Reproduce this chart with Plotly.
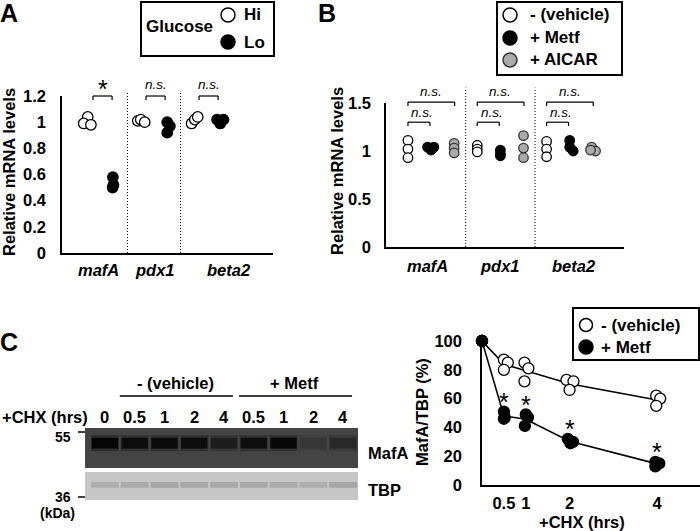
import plotly.graph_objects as go

W, H = 700, 531
FONT = "Liberation Sans, Arial, sans-serif"

# ---------------- data ----------------
genes = ["mafA", "pdx1", "beta2"]

# Panel A: relative mRNA levels, Glucose Hi / Lo (3 replicates per gene)
a_hi = [[1.04, 0.99, 0.98], [1.01, 1.02, 1.00], [0.99, 1.02, 1.04]]
a_lo = [[0.58, 0.52, 0.50], [1.00, 0.97, 0.92], [1.02, 1.02, 0.99]]
a_sig = ["*", "n.s.", "n.s."]
a_yticks = [0, 0.2, 0.4, 0.6, 0.8, 1, 1.2]

# Panel B: relative mRNA levels, vehicle / Metf / AICAR
b_veh = [[1.11, 1.02, 0.93], [1.06, 1.02, 0.99], [1.10, 1.02, 0.94]]
b_metf = [[1.04, 1.04, 1.01], [1.01, 0.97, 0.95], [1.11, 1.04, 1.00]]
b_aicar = [[1.08, 1.03, 0.98], [1.16, 1.03, 0.93], [1.04, 1.00, 1.01]]
b_sig = ["n.s.", "n.s."]
b_yticks = [0, 0.5, 1, 1.5]

# Panel C: MafA/TBP (%) after CHX
c_time = [0, 0.5, 1, 2, 4]
c_veh = [[100, 100, 100], [87, 85, 80], [85, 81, 72], [73, 72, 66], [62, 60, 55]]
c_metf = [[100, 100, 100], [51, 47, 46], [49, 47, 41], [32, 30, 29], [16, 15, 13]]
c_sig = ["", "*", "*", "*", "*"]
c_yticks = [0, 20, 40, 60, 80, 100]
c_xticks = [0.5, 1, 2, 4]

# Western blot (relative band intensities per lane)
blot_lanes = ["0", "0.5", "1", "2", "4", "0.5", "1", "2", "4"]
blot_groups = ["- (vehicle)", "+ Metf"]
mafa_band = [1.0, 0.88, 0.90, 0.88, 0.62, 0.85, 0.95, 0.22, 0.45]
tbp_band = [0.45, 0.50, 0.60, 0.55, 0.55, 0.55, 0.50, 0.45, 0.60]

# ---------------- helpers ----------------
def px(x):
    return x / W

def py(y):
    return 1 - y / H

def bold(size, italic=False):
    d = dict(family=FONT, size=size, color="black", weight="bold")
    if italic:
        d["style"] = "italic"
    return d

def plain(size, italic=False):
    d = dict(family=FONT, size=size, color="black")
    if italic:
        d["style"] = "italic"
    return d

annotations = []
shapes = []

def ann(text, x, y, font, xanchor="center", yanchor="middle", xref="paper", yref="paper", angle=0, yshift=0):
    annotations.append(dict(text=text, x=x, y=y, xref=xref, yref=yref, showarrow=False,
                            font=font, xanchor=xanchor, yanchor=yanchor, textangle=angle,
                            yshift=yshift))

def ptext(text, x, y, font, **kw):
    ann(text, px(x), py(y), font, **kw)

def rect(x0, y0, x1, y1, lw=2):
    shapes.append(dict(type="rect", xref="paper", yref="paper", x0=px(x0), x1=px(x1),
                       y0=py(y1), y1=py(y0), line=dict(color="black", width=lw),
                       fillcolor="white", layer="below"))

def circ(x, y, r, fill, line="black", lw=1.5):
    shapes.append(dict(type="circle", xref="paper", yref="paper", x0=px(x - r), x1=px(x + r),
                       y0=py(y + r), y1=py(y - r), line=dict(color=line, width=lw),
                       fillcolor=fill, layer="above"))

def pline(x0, y0, x1, y1, lw=1.5):
    shapes.append(dict(type="line", xref="paper", yref="paper", x0=px(x0), x1=px(x1),
                       y0=py(y0), y1=py(y1), line=dict(color="black", width=lw)))

# axis geometry (pixels) and value->paper helper for items above the plot areas
A_DOM = (62, 273, 96, 253)     # x0, x1, ytop, ybottom
B_DOM = (386, 624, 103, 247)
BL_DOM = (85, 358, 428, 500)
C_DOM = (482, 700, 341, 485)

def yval_paper(dom, rng, v):
    top, bot = py(dom[2]), py(dom[3])
    return bot + (v - rng[0]) / (rng[1] - rng[0]) * (top - bot)

def dline(xref, dom, rng, x0, v0, x1, v1, lw=1.2, dash="solid"):
    shapes.append(dict(type="line", xref=xref, yref="paper", x0=x0, x1=x1,
                       y0=yval_paper(dom, rng, v0), y1=yval_paper(dom, rng, v1),
                       line=dict(color="black", width=lw, dash=dash)))

def bracket(xref, dom, rng, x0, x1, v, drop):
    dline(xref, dom, rng, x0, v - drop, x0, v)
    dline(xref, dom, rng, x0, v, x1, v)
    dline(xref, dom, rng, x1, v, x1, v - drop)

fig = go.Figure()

def add_markers(xs, ys, xa, ya, fill, line="black", size=10):
    fig.add_trace(go.Scatter(x=xs, y=ys, xaxis=xa, yaxis=ya, mode="markers",
                             marker=dict(size=size, color=fill, line=dict(color=line, width=1.3)),
                             cliponaxis=False, showlegend=False, hoverinfo="skip"))

DOT = "1px,2px"

# ---------------- Panel A ----------------
A_RANGE = (0, 1.2)
a_jit_hi = [[0.0, -0.15, 0.12], [-0.11, 0.0, 0.15], [-0.08, 0.04, 0.15]]
a_jit_lo = [[-0.05, -0.03, -0.06], [0.0, 0.1, 0.0], [-0.12, 0.12, 0.0]]
xs_h, ys_h, xs_l, ys_l = [], [], [], []
for g in range(len(genes)):
    c = 1 + 2 * g
    for v, j in zip(a_hi[g], a_jit_hi[g]):
        xs_h.append(c - 0.5 + j); ys_h.append(v)
    for v, j in zip(a_lo[g], a_jit_lo[g]):
        xs_l.append(c + 0.5 + j); ys_l.append(v)
add_markers(xs_h, ys_h, "x", "y", "white", size=10.5)
add_markers(xs_l, ys_l, "x", "y", "black", size=10.5)
for g in range(1, len(genes)):
    dline("x", A_DOM, A_RANGE, 2 * g, 0, 2 * g, 1.223, lw=1, dash=DOT)
a_label_x = [0.9, 3.05, 5.8]
for g in range(len(genes)):
    c = 1 + 2 * g
    bracket("x", A_DOM, A_RANGE, c - 0.3, c + 0.42, 1.2, 0.03)
    ysig = yval_paper(A_DOM, A_RANGE, 1.285)
    if a_sig[g] == "*":
        ann("*", c + 0.07, ysig, plain(25), xref="x", yref="paper", yshift=-4)
    else:
        ann(a_sig[g], c + 0.07, ysig, plain(13.5, italic=True), xref="x", yref="paper")
    ann(genes[g], a_label_x[g], py(270), bold(16.5, italic=True), xref="x", yref="paper")

# ---------------- Panel B ----------------
B_RANGE = (0, 1.5)
b_jit = {
    "veh": [[0, 0, 0], [0, 0, 0], [0, 0, 0]],
    "metf": [[-0.15, 0.12, 0.0], [0, 0, 0], [0, 0, 0.15]],
    "aicar": [[0, 0, 0], [0, 0, 0], [-0.05, 0.12, -0.1]],
}
series_b = [("veh", b_veh, "white", "black", 0), ("metf", b_metf, "black", "black", 1),
            ("aicar", b_aicar, "#aaaaaa", "#333333", 2)]
for key, vals, fill, lc, off in series_b:
    xs, ys = [], []
    for g in range(len(genes)):
        for v, j in zip(vals[g], b_jit[key][g]):
            xs.append(3 * g + off + j); ys.append(v)
    add_markers(xs, ys, "x2", "y2", fill, line=lc, size=9.5)
for g in range(1, len(genes)):
    dline("x2", B_DOM, B_RANGE, 3 * g - 0.5, 0, 3 * g - 0.5, 1.66, lw=1, dash=DOT)
b_label_x = [0.85, 4.0, 7.15]
for g in range(len(genes)):
    s = 3 * g
    bracket("x2", B_DOM, B_RANGE, s, s + 2.02, 1.51, 0.04)
    bracket("x2", B_DOM, B_RANGE, s, s + 0.95, 1.30, 0.04)
    ann(b_sig[0], s + 1.0, yval_paper(B_DOM, B_RANGE, 1.615), plain(13.5, italic=True),
        xref="x2", yref="paper")
    ann(b_sig[1], s + 0.62, yval_paper(B_DOM, B_RANGE, 1.40), plain(13.5, italic=True),
        xref="x2", yref="paper")
    ann(genes[g], b_label_x[g], py(266), bold(16.5, italic=True), xref="x2", yref="paper")

# ---------------- Panel C (chart) ----------------
def mean(v):
    return sum(v) / len(v)

c_jit_veh = [[0, 0, 0], [0, 0.09, 0], [-0.03, 0.06, -0.03], [-0.07, 0.09, 0], [-0.02, 0.07, -0.02]]
c_jit_metf = [[0, 0, 0], [0, 0.02, 0], [0, 0.05, -0.02], [-0.04, 0.08, 0.02], [-0.04, 0.05, -0.04]]
for vals in (c_veh, c_metf):
    fig.add_trace(go.Scatter(x=c_time, y=[mean(v) for v in vals], xaxis="x4", yaxis="y4",
                             mode="lines", line=dict(color="black", width=1.6), cliponaxis=False,
                             showlegend=False, hoverinfo="skip"))
for vals, jit, fill in [(c_veh, c_jit_veh, "white"), (c_metf, c_jit_metf, "black")]:
    xs, ys = [], []
    for t, reps, jj in zip(c_time, vals, jit):
        for v, j in zip(reps, jj):
            xs.append(t + j); ys.append(v)
    add_markers(xs, ys, "x4", "y4", fill, size=11)
for t, s, reps in zip(c_time, c_sig, c_metf):
    if s:
        ann(s, t, max(reps) + 8, plain(25), xref="x4", yref="y4", yshift=-2)

# ---------------- Blot ----------------
lane_idx = list(range(len(blot_lanes)))
BL_X0 = -0.67
shapes.append(dict(type="rect", xref="x3", yref="y3", x0=BL_X0, x1=8.5, y0=0.444, y1=1.0,
                   fillcolor="#444444", line=dict(width=0), layer="below"))
shapes.append(dict(type="rect", xref="x3", yref="y3", x0=BL_X0, x1=8.5, y0=0.0, y1=0.389,
                   fillcolor="#c6c6c6", line=dict(width=0), layer="below"))
fig.add_trace(go.Bar(x=lane_idx, y=[0.22] * len(lane_idx), base=0.68, width=0.94,
                     xaxis="x3", yaxis="y3", opacity=0.55,
                     marker=dict(color=mafa_band, cmin=0, cmax=1, showscale=False,
                                 colorscale=[[0, "#444444"], [1, "#1e1e1e"]], line=dict(width=0)),
                     showlegend=False, hoverinfo="skip"))
fig.add_trace(go.Bar(x=lane_idx, y=[0.15] * len(lane_idx), base=0.715, width=0.88,
                     xaxis="x3", yaxis="y3",
                     marker=dict(color=mafa_band, cmin=0, cmax=1, showscale=False,
                                 colorscale=[[0, "#444444"], [1, "#050505"]], line=dict(width=0)),
                     showlegend=False, hoverinfo="skip"))
fig.add_trace(go.Bar(x=lane_idx, y=[0.08] * len(lane_idx), base=0.17, width=0.94,
                     xaxis="x3", yaxis="y3",
                     marker=dict(color=tbp_band, cmin=0, cmax=1, showscale=False,
                                 colorscale=[[0, "#c6c6c6"], [1, "#909090"]], line=dict(width=0)),
                     showlegend=False, hoverinfo="skip"))
for i, lab in enumerate(blot_lanes):
    ann(lab, i, py(417), bold(16.5), xref="x3", yref="paper")
for name, lanes in [(blot_groups[0], [1, 2, 3, 4]), (blot_groups[1], [5, 6, 7, 8])]:
    ann(name, (lanes[0] + lanes[-1]) / 2 - 0.12, py(383), bold(16.5), xref="x3", yref="paper")
    shapes.append(dict(type="line", xref="x3", yref="paper", x0=lanes[0] - 0.5, x1=lanes[-1] + 0.3,
                       y0=py(396), y1=py(396), line=dict(color="black", width=1.5)))
ptext("+CHX (hrs)", 0, 417, bold(16.5), xanchor="left")
ptext("55", 73, 437, bold(14), xanchor="right")
pline(78, 432, 85, 432)
ptext("36", 73, 497, bold(14), xanchor="right")
pline(78, 497, 85, 497)
ptext("(kDa)", 57, 513, bold(14))
ptext("MafA", 366, 453, bold(16.5), xanchor="left")
ptext("TBP", 366, 490, bold(16.5), xanchor="left")

# ---------------- panel letters, titles ----------------
ptext("A", 9, 13, bold(25))
ptext("B", 327, 13, bold(25))
ptext("C", 9, 342, bold(25))
ptext("Relative mRNA levels", 9, 172, bold(16.5), angle=-90)
ptext("Relative mRNA levels", 337, 171, bold(16.5), angle=-90)
ptext("MafA/TBP (%)", 422, 412, bold(16.5), angle=-90)
ptext("+CHX (hrs)", 582, 522, bold(16.5))

# ---------------- legends (keys) ----------------
rect(141, 2, 274, 56)
ptext("Glucose", 180, 27, bold(17))
circ(228, 15, 7, "white")
circ(228, 42, 7, "black")
ptext("Hi", 242, 15, bold(17), xanchor="left")
ptext("Lo", 242, 42, bold(17), xanchor="left")

rect(497, 2, 622, 75)
circ(510, 15, 7, "white")
circ(510, 38, 7, "black")
circ(510, 60, 7, "#aaaaaa", line="#333333")
ptext("- (vehicle)", 528, 15, bold(17), xanchor="left")
ptext("+ Metf", 528, 38, bold(17), xanchor="left")
ptext("+ AICAR", 528, 60, bold(17), xanchor="left")

rect(573, 308, 699, 360)
circ(586, 325, 6.5, "white")
circ(586, 347, 7, "black")
ptext("- (vehicle)", 599, 325, bold(17), xanchor="left")
ptext("+ Metf", 599, 347, bold(17), xanchor="left")

# ---------------- axes ----------------
common = dict(showgrid=False, zeroline=False, ticks="", ticklen=0, linecolor="black", linewidth=1.5,
              automargin=False)

def fmt(v):
    return f"{v:g}"

fig.update_layout(
    width=W, height=H, autosize=False,
    margin=dict(l=0, r=0, t=0, b=0, pad=0, autoexpand=False),
    paper_bgcolor="white", plot_bgcolor="white", barmode="overlay", hovermode=False,
    showlegend=False,
    xaxis=dict(domain=[px(A_DOM[0]), px(A_DOM[1])], range=[-0.47, 7.49], anchor="y", showline=True,
               showticklabels=False, **common),
    yaxis=dict(domain=[py(A_DOM[3]), py(A_DOM[2])], range=list(A_RANGE), anchor="x", showline=True,
               tickvals=a_yticks, ticktext=[fmt(v) for v in a_yticks], tickfont=bold(16.5),
               ticklabelstandoff=11, **common),
    xaxis2=dict(domain=[px(B_DOM[0]), px(B_DOM[1])], range=[-0.95, 9.35], anchor="y2", showline=True,
                showticklabels=False, **common),
    yaxis2=dict(domain=[py(B_DOM[3]), py(B_DOM[2])], range=list(B_RANGE), anchor="x2", showline=True,
                tickvals=b_yticks, ticktext=[fmt(v) for v in b_yticks], tickfont=bold(16.5),
                ticklabelstandoff=10, **common),
    xaxis3=dict(domain=[px(BL_DOM[0]), px(BL_DOM[1])], range=[BL_X0, 8.5], anchor="y3",
                visible=False),
    yaxis3=dict(domain=[py(BL_DOM[3]), py(BL_DOM[2])], range=[0, 1], anchor="x3", visible=False),
    xaxis4=dict(domain=[px(C_DOM[0]), px(C_DOM[1])], range=[0, 4.98], anchor="y4", showline=True,
                tickvals=c_xticks, ticktext=[fmt(v) for v in c_xticks], tickfont=bold(16.5),
                ticklabelstandoff=2, **common),
    yaxis4=dict(domain=[py(C_DOM[3]), py(C_DOM[2])], range=[0, 100], anchor="x4", showline=True,
                tickvals=c_yticks, ticktext=[fmt(v) for v in c_yticks], tickfont=bold(16.5),
                ticklabelstandoff=15, **common),
    annotations=annotations,
    shapes=shapes,
)

PAGE_FIX = (
    "var s=document.createElement('style');"
    "s.textContent='html,body{margin:0!important;padding:0!important;overflow:hidden!important;"
    "width:700px;height:531px;}';"
    "document.head.appendChild(s);"
)
fig.write_html("out.html", config={"displayModeBar": False}, post_script=PAGE_FIX)
